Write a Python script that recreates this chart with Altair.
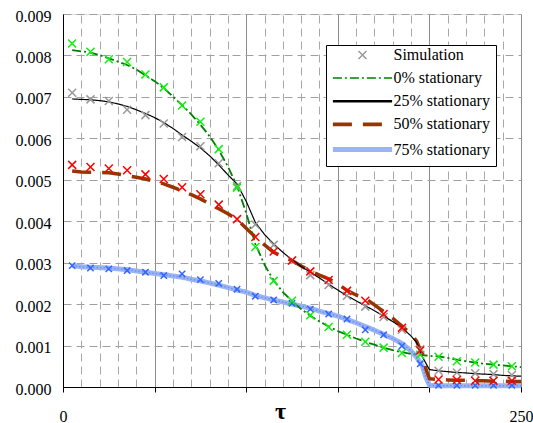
import altair as alt
import pandas as pd

# ---------------- data ----------------
LINE_LABELS = ["0% stationary", "25% stationary", "50% stationary", "75% stationary"]
LINE_COLORS = ["#008000", "#000000", "#993300", "#9ab4f4"]
LINE_DASHES = [[9, 3, 2, 3], [1, 0], [19, 11], [1, 0]]
LINE_WIDTHS = [1.8, 1.2, 3.5, 5.0]
MARKER_COLORS = ["#11ee11", "#999999", "#ff0000", "#3366ff"]
XPATH = "M-1,-1L1,1M-1,1L1,-1"
HPATH = "M-7.4,0L7.4,0"

X_SIM = [5, 15, 25, 35, 45, 55, 65, 75, 85, 95, 105, 115, 125, 135, 145,
         155, 165, 175, 185, 195, 205, 215, 225, 235, 245]
SIM_0 = [8.29, 8.09, 7.91, 7.84, 7.54, 7.23, 6.79, 6.40, 5.74, 4.81, 3.38, 2.56, 2.08,
         1.73, 1.45, 1.26, 1.09, 0.95, 0.82, 0.78, 0.73, 0.62, 0.59, 0.54, 0.50]
SIM_25 = [7.10, 6.94, 6.90, 6.69, 6.56, 6.36, 6.03, 5.81, 5.40, 4.85, 3.92, 3.43, 3.05,
          2.70, 2.46, 2.20, 1.94, 1.69, 1.38, 0.91, 0.39, 0.35, 0.33, 0.31, 0.29]
SIM_50 = [5.36, 5.31, 5.27, 5.23, 5.13, 5.02, 4.82, 4.65, 4.40, 4.05, 3.62, 3.27, 3.05,
          2.79, 2.58, 2.32, 2.08, 1.76, 1.43, 0.88, 0.18, 0.17, 0.15, 0.15, 0.15]
SIM_75 = [2.93, 2.87, 2.85, 2.81, 2.77, 2.69, 2.73, 2.59, 2.50, 2.36, 2.19, 2.10, 2.02,
          1.88, 1.76, 1.64, 1.38, 1.26, 0.99, 0.56, 0.04, 0.04, 0.04, 0.04, 0.04]

X_LINE = [5, 10, 15, 20, 25, 30, 35, 40, 45, 50, 55, 60, 65, 70, 75, 80, 85, 90, 95,
          100, 105, 110, 115, 120, 125, 130, 135, 140, 145, 150, 155, 160, 165, 170,
          175, 180, 185, 190, 193, 196, 198, 200, 205, 210, 215, 220, 225, 230, 235,
          240, 245, 250]
LINE_0 = [8.13, 8.10, 8.07, 8.01, 7.93, 7.85, 7.77, 7.66, 7.52, 7.38, 7.21, 7.01, 6.80,
          6.58, 6.33, 6.05, 5.72, 5.32, 4.85, 4.20, 3.45, 2.95, 2.57, 2.29, 2.07, 1.88,
          1.72, 1.58, 1.46, 1.35, 1.26, 1.17, 1.09, 1.02, 0.95, 0.89, 0.84, 0.80, 0.78,
          0.77, 0.76, 0.75, 0.74, 0.70, 0.66, 0.62, 0.59, 0.56, 0.54, 0.52, 0.50, 0.48]
LINE_25 = [6.95, 6.94, 6.93, 6.91, 6.88, 6.83, 6.77, 6.69, 6.60, 6.50, 6.38, 6.24, 6.08,
           5.93, 5.77, 5.58, 5.36, 5.12, 4.90, 4.48, 3.97, 3.68, 3.45, 3.25, 3.07, 2.91,
           2.77, 2.63, 2.48, 2.34, 2.20, 2.08, 1.96, 1.84, 1.71, 1.58, 1.43, 1.23, 1.08,
           0.74, 0.58, 0.42, 0.39, 0.37, 0.35, 0.34, 0.32, 0.31, 0.30, 0.28, 0.27, 0.26]
LINE_50 = [5.21, 5.19, 5.18, 5.18, 5.17, 5.14, 5.10, 5.06, 5.02, 4.96, 4.90, 4.82, 4.73,
           4.64, 4.54, 4.42, 4.30, 4.18, 4.04, 3.83, 3.62, 3.43, 3.25, 3.14, 3.05, 2.92,
           2.80, 2.70, 2.61, 2.49, 2.33, 2.22, 2.14, 1.98, 1.82, 1.66, 1.47, 1.28, 1.11,
           0.79, 0.45, 0.20, 0.18, 0.17, 0.16, 0.16, 0.15, 0.15, 0.14, 0.14, 0.13, 0.13]
LINE_75 = [2.93, 2.90, 2.89, 2.88, 2.87, 2.85, 2.83, 2.80, 2.77, 2.74, 2.71, 2.68, 2.65,
           2.60, 2.56, 2.51, 2.46, 2.40, 2.34, 2.29, 2.21, 2.15, 2.10, 2.05, 2.00, 1.95,
           1.90, 1.83, 1.77, 1.71, 1.63, 1.55, 1.46, 1.37, 1.27, 1.17, 1.05, 0.87, 0.72,
           0.52, 0.25, 0.04, 0.03, 0.03, 0.03, 0.03, 0.03, 0.03, 0.03, 0.03, 0.03, 0.03]

Y_TICKS = [0.0, 0.001, 0.002, 0.003, 0.004, 0.005, 0.006, 0.007, 0.008, 0.009]
X_MAJOR = [0, 50, 100, 150, 200, 250]
X_MINOR = [10, 20, 30, 40, 60, 70, 80, 90, 110, 120, 130, 140, 160, 170, 180, 190,
           210, 220, 230, 240]

# ---------------- tables ----------------
line_rows = []
for lab, vals, w in reversed(list(zip(LINE_LABELS, [LINE_0, LINE_25, LINE_50, LINE_75], LINE_WIDTHS))):
    for x, v in zip(X_LINE, vals):
        line_rows.append({"tau": x, "value": v / 1000.0, "label": lab, "sw": w})
line_df = pd.DataFrame(line_rows)


def sim_df(vals):
    return pd.DataFrame({"tau": X_SIM, "value": [v / 1000.0 for v in vals],
                         "kind": ["Simulation"] * len(X_SIM)})


FONT = "'Liberation Serif', 'Times New Roman', serif"
xs = alt.Scale(domain=[0, 250], nice=False, zero=False)
ys = alt.Scale(domain=[0, 0.009], nice=False, zero=False)

y_axis = alt.Axis(values=Y_TICKS, format=".3f", title=None, ticks=False, grid=True,
                  orient="left",
                  gridDash=[8, 5], gridColor="#a0a0a0", domainColor="black",
                  labelFont=FONT, labelFontSize=16, labelColor="black",
                  labelPadding=12, labelOffset=2)
x_minor_axis = alt.Axis(values=X_MINOR, orient="top", grid=True, gridDash=[8, 5],
                        gridColor="#a8a8a8", labels=False, ticks=False, domain=False,
                        title=None)
x_major_axis = alt.Axis(values=X_MAJOR, orient="bottom", grid=True, gridColor="#8c8c8c",
                        domainColor="black", tickColor="black", tickSize=5,
                        labelExpr="datum.value == 0 || datum.value == 250 ? datum.label : ''",
                        labelFont=FONT, labelFontSize=16, labelColor="black",
                        labelPadding=16, labelFlush=False, labelOverlap=False,
                        title="τ", titleFont=FONT, titleFontSize=24, titleFontWeight="bold",
                        titleColor="black", titleX=217, titleY=36,
                        titleBaseline="bottom", titleAlign="center")

legend_lines = alt.Legend(title=" ", orient="none", legendX=263, legendY=31, padding=6,
                          columns=1, rowPadding=7.2, symbolType=HPATH, symbolSize=64,
                          symbolOffset=22.5, labelOffset=23, labelFont=FONT,
                          labelFontSize=16, labelColor="black", labelLimit=300,
                          titleFontSize=14, titlePadding=5, strokeColor="black",
                          fillColor="white", zindex=1, symbolOpacity=1)
legend_sim = alt.Legend(title=None, orient="none", legendX=269, legendY=33, padding=0,
                        symbolSize=64, symbolOffset=22.5, labelOffset=23, labelFont=FONT,
                        labelFontSize=16, labelColor="black", symbolStrokeWidth=1.5,
                        zindex=2, symbolOpacity=1)

color_enc = alt.Color("label:N", scale=alt.Scale(domain=LINE_LABELS, range=LINE_COLORS),
                      legend=legend_lines)
dash_enc = alt.StrokeDash("label:N", scale=alt.Scale(domain=LINE_LABELS, range=LINE_DASHES),
                          legend=legend_lines)

lines = alt.Chart(line_df).mark_line(strokeCap="butt", strokeJoin="round").encode(
    x=alt.X("tau:Q", scale=xs, axis=x_minor_axis),
    y=alt.Y("value:Q", scale=ys, axis=y_axis),
    color=color_enc,
    strokeDash=dash_enc,
    strokeWidth=alt.StrokeWidth("sw:Q", scale=None),
    detail="label:N",
)

legend_layer = alt.Chart(line_df).transform_filter("false").mark_line().encode(
    x=alt.X("tau:Q", scale=xs, axis=None),
    y=alt.Y("value:Q", scale=ys, axis=None),
    color=color_enc,
    strokeDash=dash_enc,
    strokeWidth=alt.StrokeWidth("label:N",
                                scale=alt.Scale(domain=LINE_LABELS, range=[1.3, 5], padding=0),
                                legend=legend_lines),
)

blue_dots = alt.Chart(line_df).transform_filter(
    alt.datum.label == "75% stationary").mark_line(
    color="#6f8feb", strokeDash=[1.5, 2], strokeWidth=1.4).encode(
    x=alt.X("tau:Q", scale=xs, axis=None),
    y=alt.Y("value:Q", scale=ys, axis=None),
)


def markers(vals, color, size=64, axis=None, with_shape=False):
    base = alt.Chart(sim_df(vals))
    if with_shape:
        m = base.mark_point(filled=False, strokeWidth=1.5, size=size, opacity=1, color=color)
        return m.encode(
            x=alt.X("tau:Q", scale=xs, axis=axis),
            y=alt.Y("value:Q", scale=ys, axis=None),
            shape=alt.Shape("kind:N", scale=alt.Scale(domain=["Simulation"], range=[XPATH]),
                            legend=legend_sim),
        )
    m = base.mark_point(filled=False, strokeWidth=1.5, size=size, opacity=1, color=color,
                        shape=XPATH)
    return m.encode(
        x=alt.X("tau:Q", scale=xs, axis=axis),
        y=alt.Y("value:Q", scale=ys, axis=None),
    )


m_blue = markers(SIM_75, MARKER_COLORS[3], size=40)
m_grey = markers(SIM_25, MARKER_COLORS[1], axis=x_major_axis, with_shape=True)
m_green = markers(SIM_0, MARKER_COLORS[0])
m_red = markers(SIM_50, MARKER_COLORS[2])

chart = alt.layer(lines, blue_dots, legend_layer, m_blue, m_grey, m_green, m_red).resolve_axis(
    x="independent", y="independent"
).properties(
    width=458, height=373,
    autosize=alt.AutoSizeParams(type="none"),
    padding={"left": 63, "top": 14, "right": 12, "bottom": 36},
    background="white",
).configure_view(stroke=None).configure(font=FONT)

chart.save("out.html", embed_options={"renderer": "svg", "actions": False})
